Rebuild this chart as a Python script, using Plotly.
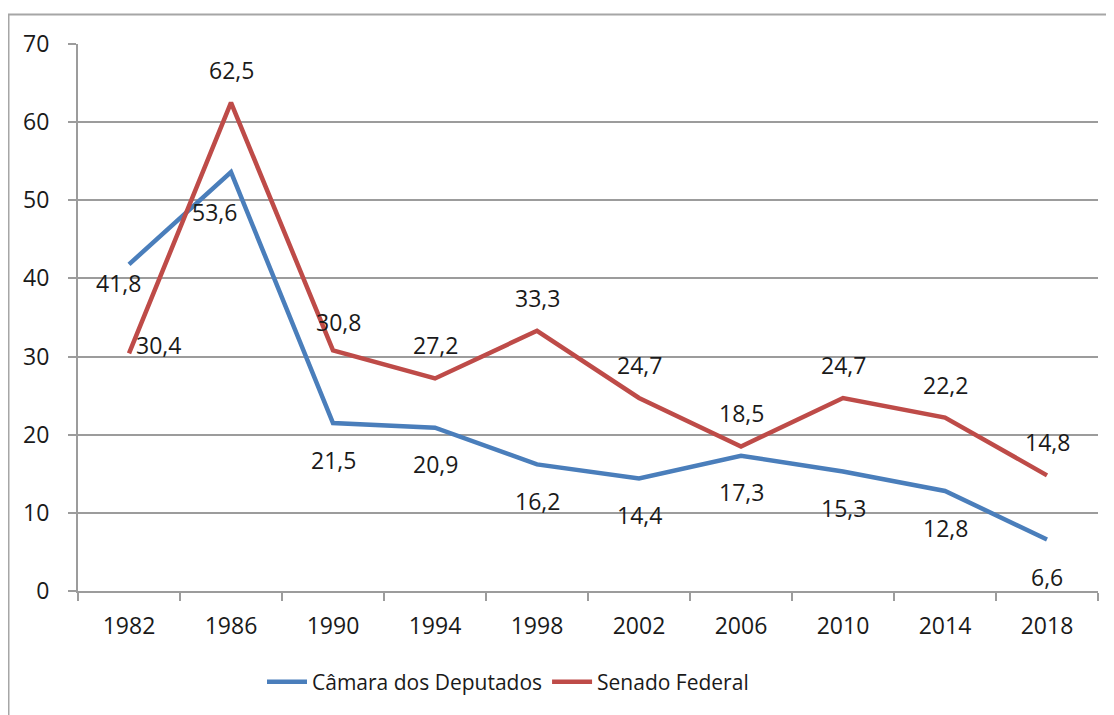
import plotly.graph_objects as go

anos = ["1982", "1986", "1990", "1994", "1998", "2002", "2006", "2010", "2014", "2018"]
camara = [41.8, 53.6, 21.5, 20.9, 16.2, 14.4, 17.3, 15.3, 12.8, 6.6]
senado = [30.4, 62.5, 30.8, 27.2, 33.3, 24.7, 18.5, 24.7, 22.2, 14.8]

# deslocamento dos rótulos (px) - a maioria segue a regra, alguns foram movidos
camara_dx = [-11, -17, 0, 0, 0, 0, 0, 0, 0, 0]
camara_dy = [-19, -40, -37, -36, -37, -37, -36, -37, -37, -38]
senado_dx = [29, 0, 5, 0, 0, 0, 0, 0, 0, 0]
senado_dy = [8, 33, 28, 33, 33, 33, 33, 33, 33, 33]

OFF = 8  # margem padrão do <body> na página
W, H = 1114 - OFF, 715 - OFF
L, R, T, B = 78 - OFF, 1098 - OFF, 44 - OFF, 591 - OFF
FONTE = dict(family="Open Sans", size=23, color="#1a1a1a")
CINZA = "#9c9c9c"

def px_x(p):
    return (p - OFF - L) / (R - L)

def px_y(p):
    return (B - (p - OFF)) / (B - T)

fig = go.Figure()
fig.add_trace(go.Scatter(x=anos, y=camara, mode="lines", name="Câmara dos Deputados",
                         line=dict(color="#4a7ebb", width=4.5)))
fig.add_trace(go.Scatter(x=anos, y=senado, mode="lines", name="Senado Federal",
                         line=dict(color="#be4b48", width=4.5)))

# rótulos de dados (eixo de categoria: posição pelo índice)
anots = []
for i in range(len(anos)):
    anots.append(dict(x=i, y=camara[i], xref="x", yref="y",
                      text=f"{camara[i]:.1f}".replace(".", ","),
                      showarrow=False, xshift=camara_dx[i], yshift=camara_dy[i], font=FONTE))
    anots.append(dict(x=i, y=senado[i], xref="x", yref="y",
                      text=f"{senado[i]:.1f}".replace(".", ","),
                      showarrow=False, xshift=senado_dx[i], yshift=senado_dy[i], font=FONTE))

fig.update_layout(
    width=W, height=H,
    margin=dict(l=L, r=W - R, t=T, b=H - B, autoexpand=False),
    plot_bgcolor="white", paper_bgcolor="white",
    font=FONTE,
    showlegend=True,
    annotations=anots,
    shapes=[dict(type="rect", xref="paper", yref="paper",
                 x0=px_x(8.5), x1=px_x(1114 + 20), y0=px_y(715 + 20), y1=px_y(14.5),
                 line=dict(color="#a6a6a6", width=2), layer="below")],
    legend=dict(orientation="h", x=px_x(508), y=px_y(682), xanchor="center", yanchor="middle",
                font=dict(family="Open Sans", size=21, color="#1a1a1a"),
                itemwidth=40, tracegroupgap=0),
    xaxis=dict(type="category", range=[-0.5, 9.5], showgrid=False, showline=True,
               linecolor=CINZA, linewidth=2, ticks="outside", tickson="boundaries",
               ticklen=8, tickcolor=CINZA, tickwidth=2, ticklabelstandoff=13),
    yaxis=dict(range=[0, 70], dtick=10, showgrid=True, gridcolor=CINZA, gridwidth=2,
               showline=True, linecolor=CINZA, linewidth=2, ticks="outside", ticklen=8,
               tickcolor=CINZA, tickwidth=2, ticklabelstandoff=14, zeroline=False),
)

fig.write_html("out.html")
